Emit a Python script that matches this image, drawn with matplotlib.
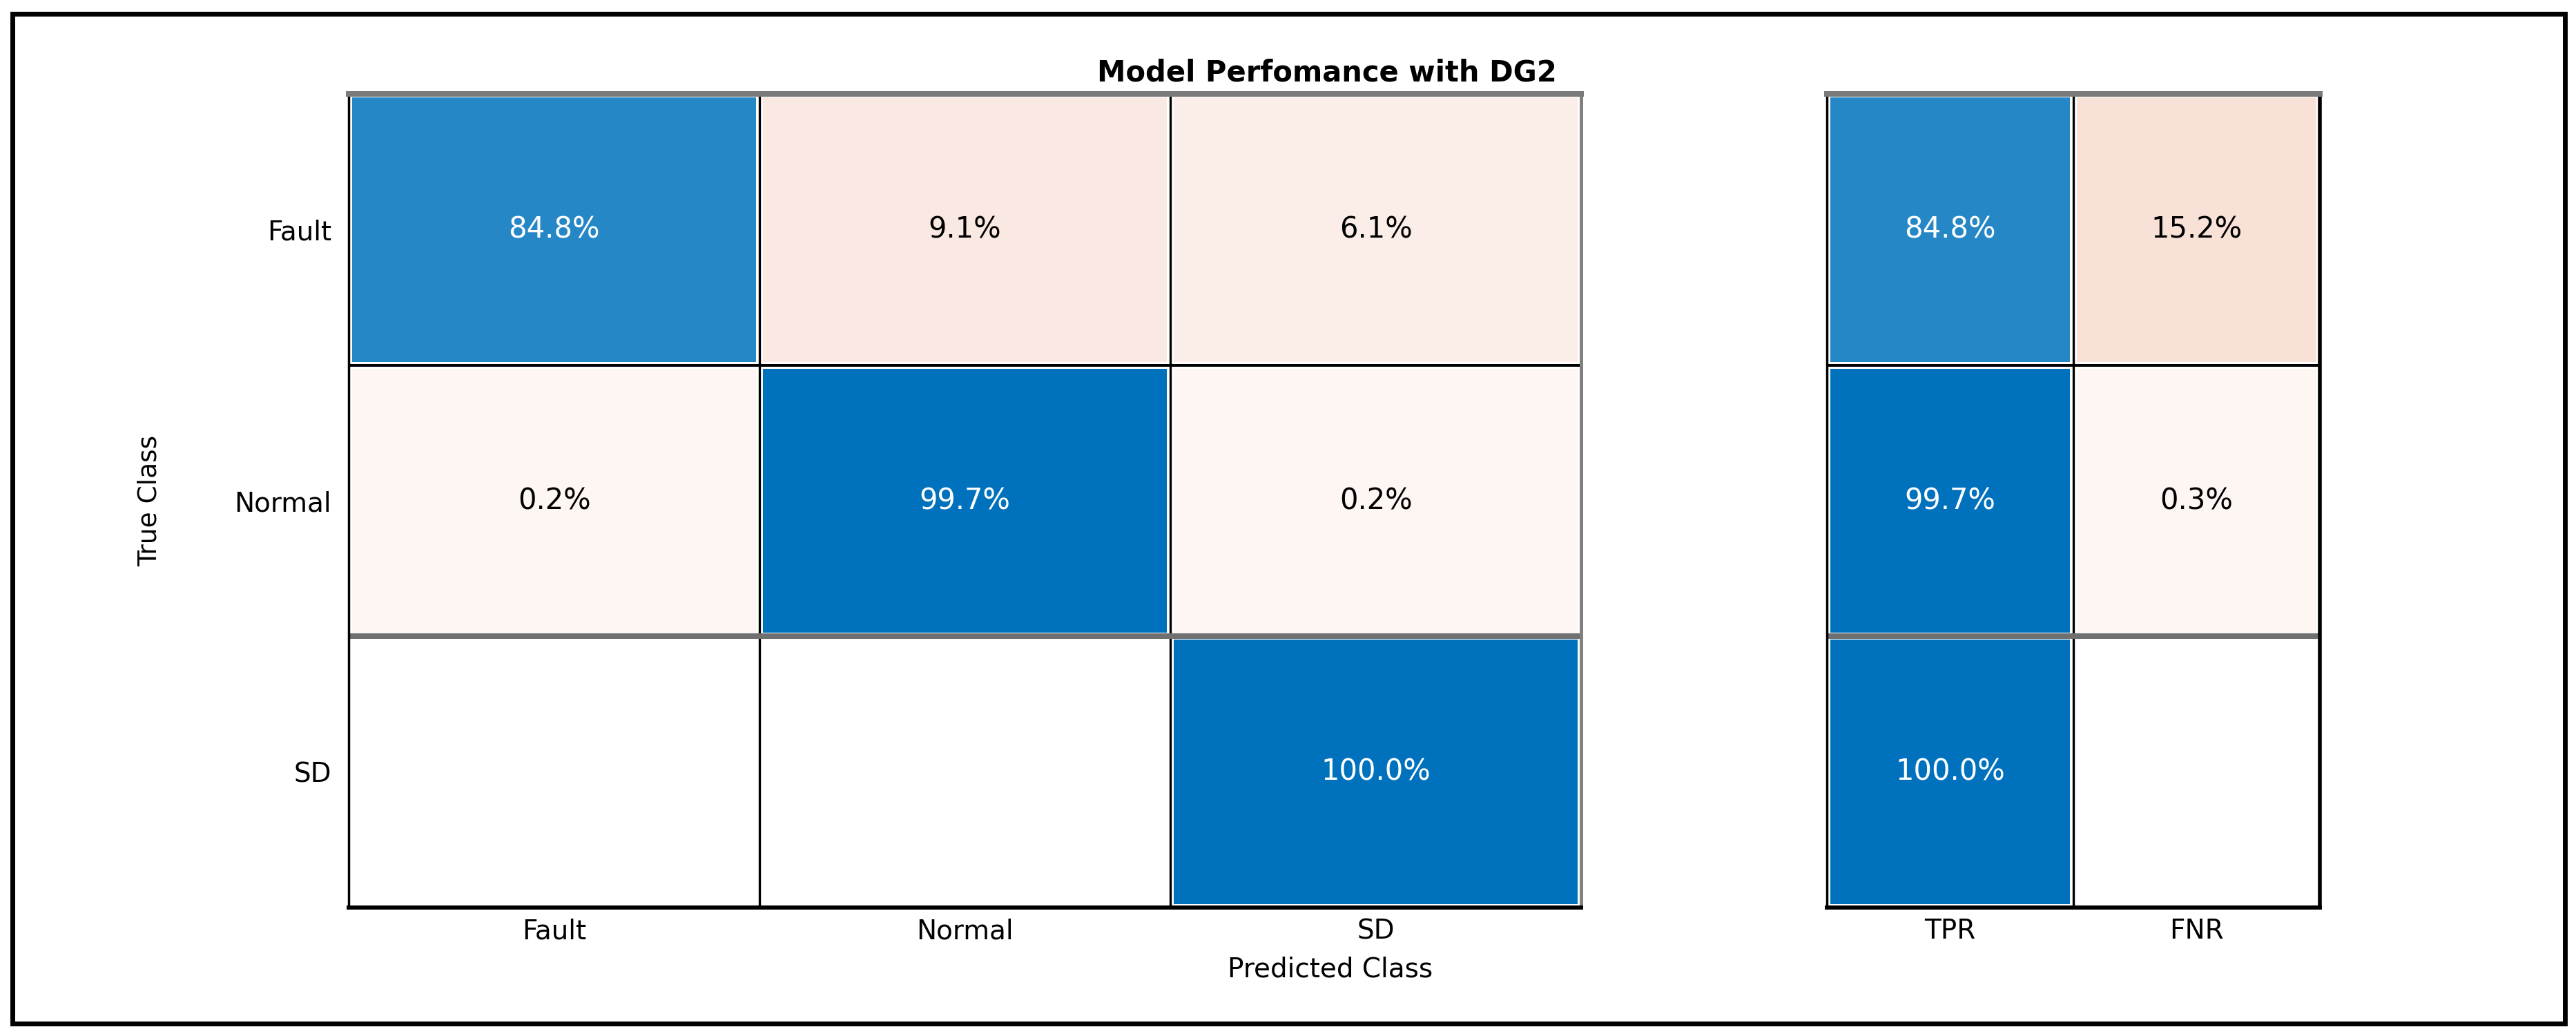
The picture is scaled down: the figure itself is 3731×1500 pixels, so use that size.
import numpy as np
import matplotlib
matplotlib.use("Agg")
import matplotlib.pyplot as plt
from matplotlib.colors import LinearSegmentedColormap, Normalize
from matplotlib.patches import Rectangle

# confusion chart values (row-normalised, %)
CLASS_NAMES = ["Fault", "Normal", "SD"]
CONF_PCT = [
    [84.8, 9.1, 6.1],
    [0.2, 99.7, 0.2],
    [0.0, 0.0, 100.0],
]

# row summary
SUMMARY_NAMES = ["TPR", "FNR"]
TPR_PCT = [84.8, 99.7, 100.0]
FNR_PCT = [15.2, 0.3, 0.0]

TITLE = "Model Perfomance with DG2"
X_LABEL = "Predicted Class"
Y_LABEL = "True Class"

BLUE = "#0072BD"
RED = "#D95319"
blue_cmap = LinearSegmentedColormap.from_list("cm_blue", ["white", BLUE])
red_cmap = LinearSegmentedColormap.from_list("cm_red", ["white", RED])
blue_norm = Normalize(vmin=0, vmax=100)
red_norm = Normalize(vmin=-7.2, vmax=121)

plt.rcParams["font.family"] = ["DejaVu Sans"]

CELL_FS = 30
TICK_FS = 28


def draw_block(ax, values, good_mask, col_labels, row_labels=None):
    vals = np.asarray(values, dtype=float)
    n_rows, n_cols = vals.shape
    x_edges = np.arange(n_cols + 1)
    y_edges = np.arange(n_rows + 1)

    good = np.ma.masked_where(~good_mask | (vals == 0), vals)
    bad = np.ma.masked_where(good_mask | (vals == 0), vals)
    ax.pcolormesh(x_edges, y_edges, good, cmap=blue_cmap, norm=blue_norm,
                  edgecolors="white", linewidth=7)
    ax.pcolormesh(x_edges, y_edges, bad, cmap=red_cmap, norm=red_norm,
                  edgecolors="white", linewidth=7)

    for i in range(n_rows):
        for j in range(n_cols):
            v = vals[i, j]
            if v == 0:
                continue
            if good_mask[i, j]:
                rgb = blue_cmap(blue_norm(v))
            else:
                rgb = red_cmap(red_norm(v))
            lum = 0.299 * rgb[0] + 0.587 * rgb[1] + 0.114 * rgb[2]
            color = "white" if lum < 0.55 else "black"
            ax.text(j + 0.5, i + 0.5, f"{v:.1f}%", ha="center", va="center",
                    fontsize=CELL_FS, color=color, zorder=5)

    ax.set_xlim(0, n_cols)
    ax.set_ylim(n_rows, 0)
    ax.set_xticks(np.arange(n_cols) + 0.5)
    ax.set_xticklabels(col_labels, fontsize=TICK_FS)
    ax.set_yticks(np.arange(n_rows) + 0.5)
    if row_labels is None:
        ax.set_yticklabels([])
    else:
        ax.set_yticklabels(row_labels, fontsize=TICK_FS)
    ax.tick_params(axis="both", length=0)
    ax.tick_params(axis="x", pad=11)
    ax.tick_params(axis="y", pad=18)

    # grid lines between cells
    for j in range(1, n_cols):
        ax.axvline(j, color="black", lw=2.4, zorder=4)
    ax.axhline(1, color="black", lw=2.9, zorder=4)
    ax.axhline(2, color="#707070", lw=5.8, zorder=4)

    ax.spines["top"].set_color("#7a7a7a")
    ax.spines["top"].set_linewidth(5.8)
    ax.spines["bottom"].set_color("black")
    ax.spines["bottom"].set_linewidth(4.3)
    ax.spines["left"].set_color("black")
    ax.spines["left"].set_linewidth(2.5)
    for s in ax.spines.values():
        s.set_zorder(6)


fig = plt.figure(figsize=(37.31, 15), dpi=100)

ax_main = fig.add_axes([0.1354, 0.124, 0.4784, 0.7853])
diag_mask = np.eye(len(CLASS_NAMES), dtype=bool)
draw_block(ax_main, CONF_PCT, diag_mask, CLASS_NAMES, CLASS_NAMES)
ax_main.spines["right"].set_color("#808080")
ax_main.spines["right"].set_linewidth(3.6)

ax_sum = fig.add_axes([0.7092, 0.124, 0.1914, 0.7853])
summary = np.column_stack([TPR_PCT, FNR_PCT])
sum_mask = np.zeros(summary.shape, dtype=bool)
sum_mask[:, 0] = True
draw_block(ax_sum, summary, sum_mask, SUMMARY_NAMES)
ax_sum.spines["right"].set_color("black")
ax_sum.spines["right"].set_linewidth(4)

fig.text(0.515, 0.922, TITLE, ha="center", va="baseline",
         fontsize=30, fontweight="bold")
fig.text(0.5165, 0.057, X_LABEL, ha="center", va="baseline", fontsize=28)
fig.text(0.058, 0.5167, Y_LABEL, ha="center", va="center", rotation=90,
         fontsize=27)

# outer frame
fig.add_artist(Rectangle((0.0048, 0.012), 0.9909, 0.9747, transform=fig.transFigure,
                         fill=False, edgecolor="black", linewidth=5))

fig.savefig("out.png", dpi=100, facecolor="white")
